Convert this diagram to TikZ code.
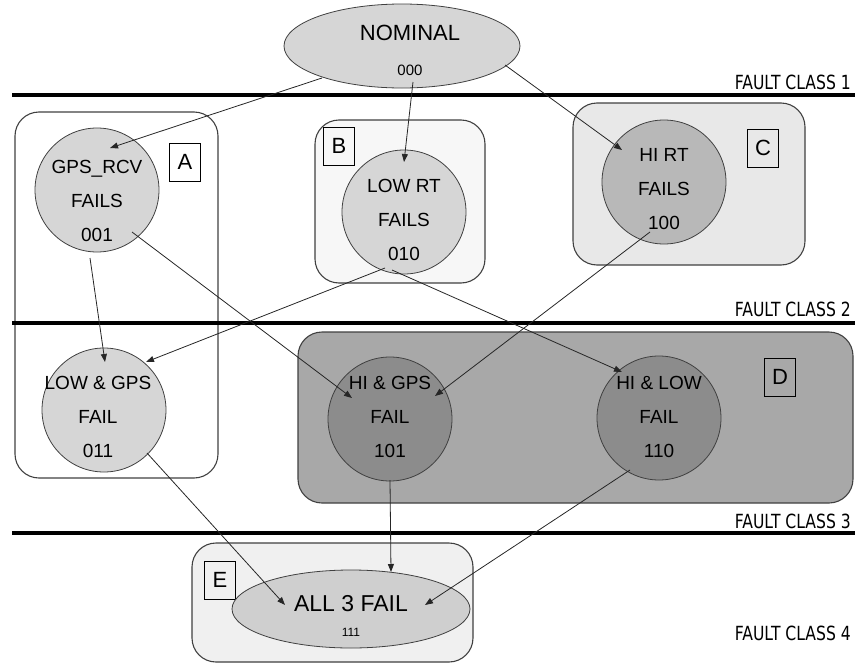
\documentclass[tikz,border=0pt]{standalone}
\usepackage{fontspec}
\setmainfont{Liberation Sans}
\newfontfamily\classfont[FakeStretch=0.8]{DejaVu Sans}
\usetikzlibrary{arrows.meta,calc,shapes.geometric}

\definecolor{edge}{gray}{0.25}
\definecolor{lightstate}{gray}{0.84}
\definecolor{histate}{gray}{0.72}
\definecolor{dualstate}{gray}{0.55}
\definecolor{allstate}{gray}{0.81}
\definecolor{groupB}{gray}{0.97}
\definecolor{groupC}{gray}{0.91}
\definecolor{groupD}{gray}{0.66}
\definecolor{groupE}{gray}{0.94}

\begin{document}
\begin{tikzpicture}[x=1pt,y=-1pt,
  group/.style={draw=edge, line width=1.1pt, rounded corners=24pt, inner sep=0pt},
  state/.style={circle, draw=edge, line width=0.8pt, minimum size=124pt, inner sep=0pt},
  oval/.style={ellipse, draw=edge, line width=0.8pt, inner sep=0pt},
  statetext/.style={align=center, font=\fontsize{19}{34}\selectfont, inner sep=0pt},
  tag/.style={draw=black, line width=0.9pt, minimum width=31pt, minimum height=38pt,
    inner sep=0pt, font=\fontsize{22}{24}\selectfont},
  classline/.style={line width=4pt, black},
  classtext/.style={anchor=base east, font=\classfont\fontsize{19.5}{22}\selectfont, inner sep=0pt},
  arr/.style={line width=0.8pt, draw=black!85, -{Triangle[length=8pt,width=6pt]}}]

\useasboundingbox (0,0) rectangle (855,664);

% groups of states
\node[group, minimum width=203pt, minimum height=366pt] (boxA) at (116.5,295) {};
\node[group, fill=groupB, minimum width=170pt, minimum height=163pt] (boxB) at (400,201.5) {};
\node[group, fill=groupC, minimum width=232pt, minimum height=162pt] (boxC) at (689,184) {};
\node[group, fill=groupD, minimum width=555pt, minimum height=171pt] (boxD) at (575.5,417.5) {};
\node[group, fill=groupE, minimum width=281pt, minimum height=119pt] (boxE) at (332.5,602.5) {};

% fault class separators
\coordinate (l1a) at (12,95);  \coordinate (l1b) at (855,95);
\coordinate (l2a) at (12,323); \coordinate (l2b) at (855,323);
\coordinate (l3a) at (12,533); \coordinate (l3b) at (855,533);
\draw[classline] (l1a) -- (l1b);
\draw[classline] (l2a) -- (l2b);
\draw[classline] (l3a) -- (l3b);
\node[classtext] (fc1) at (851,89) {FAULT CLASS 1};
\node[classtext] (fc2) at (851,316) {FAULT CLASS 2};
\node[classtext] (fc3) at (851,528) {FAULT CLASS 3};
\node[classtext] (fc4) at (851,640) {FAULT CLASS 4};

% group tags
\node[tag, fill=white] (tagA) at (185,162) {A};
\node[tag] (tagB) at (339,146) {B};
\node[tag] (tagC) at (763,148) {C};
\node[tag] (tagD) at (780,377) {D};
\node[tag] (tagE) at (220,580) {E};

% states
\node[oval, fill=lightstate, minimum width=236pt, minimum height=84pt] (nom) at (402,46) {};
\node[font=\fontsize{22}{24}\selectfont, inner sep=0pt] (nomT) at (410,33) {NOMINAL};
\node[font=\fontsize{15}{16}\selectfont, inner sep=0pt] (nomC) at (410,70) {000};

\node[state, fill=lightstate] (gps) at (97,190) {};
\node[statetext] (gpsT) at (97,201) {GPS\_RCV\\FAILS\\001};
\node[state, fill=lightstate] (lowrt) at (404,212) {};
\node[statetext] (lowrtT) at (404,220) {LOW RT\\FAILS\\010};
\node[state, fill=histate] (hirt) at (664,182) {};
\node[statetext] (hirtT) at (664,189) {HI RT\\FAILS\\100};

\node[state, fill=lightstate] (lg) at (104,410) {};
\node[statetext] (lgT) at (98,417) {LOW \& GPS\\FAIL\\011};
\node[state, fill=dualstate] (hg) at (390,419) {};
\node[statetext] (hgT) at (390,417) {HI \& GPS\\FAIL\\101};
\node[state, fill=dualstate] (hl) at (659,418) {};
\node[statetext] (hlT) at (659,417) {HI \& LOW\\FAIL\\110};

\node[oval, fill=allstate, minimum width=238pt, minimum height=78pt] (all) at (351,609) {};
\node[font=\fontsize{23}{25}\selectfont, inner sep=0pt] (allT) at (351,604) {ALL 3 FAIL};
\node[font=\fontsize{12}{14}\selectfont, inner sep=0pt] (allC) at (351,632) {111};

% transitions
\draw[arr] ($(nom)+(-80,32)$) -- ($(gps)+(13,-42)$);
\draw[arr] ($(nom)+(11,36)$) -- ($(lowrt)+(0,-50)$);
\draw[arr] ($(nom)+(103,19)$) -- ($(hirt)+(-42,-32)$);
\draw[arr] ($(gps)+(35,42)$) -- ($(hg)+(-38,-21)$);
\draw[arr] ($(gps)+(-7,68)$) -- ($(lg)+(1,-48)$);
\draw[arr] ($(lowrt)+(-19,56)$) -- ($(lg)+(42,-48)$);
\draw[arr] ($(lowrt)+(-12,58)$) -- ($(hl)+(-37,-46)$);
\draw[arr] ($(hirt)+(-14,50)$) -- ($(hg)+(45,-23)$);
\draw[arr] ($(lg)+(43,43)$) -- ($(all)+(-66,-4)$);
\draw[arr] ($(hg)+(0,61)$) -- ($(all)+(40,-37)$);
\draw[arr] ($(hl)+(-29,52)$) -- ($(all)+(74,-4)$);
\end{tikzpicture}
\end{document}
